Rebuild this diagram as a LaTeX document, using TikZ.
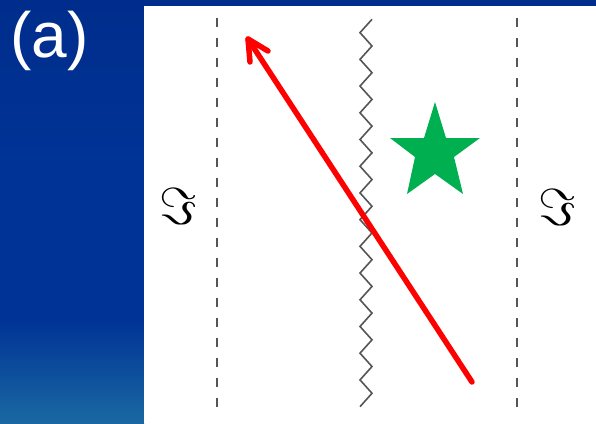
\documentclass[tikz,border=0pt]{standalone}
\usepackage{fontspec}
\setmainfont{Liberation Sans}
\usetikzlibrary{arrows.meta}
\definecolor{bgblue}{RGB}{0,51,150}
\definecolor{bgtop}{RGB}{0,45,140}
\definecolor{bglow}{RGB}{26,104,162}
\definecolor{stargreen}{RGB}{0,176,80}
\definecolor{linegray}{RGB}{85,85,85}
\tikzset{
  dashline/.style={draw=linegray, line width=1.3pt, dash pattern=on 9pt off 11pt},
  zigline/.style={draw=linegray, line width=1.6pt, line join=miter},
  redarrow/.style={draw=red, line width=5.5pt, line cap=round, line join=round},
  frak/.style={inner sep=0pt, text=black},
}
\begin{document}
\begin{tikzpicture}[x=1pt,y=-1pt]
\useasboundingbox (0,0) rectangle (596,423);
% background
\fill[bgblue] (0,0) rectangle (596,423);
\shade[top color=bgtop, bottom color=bgblue] (0,0) rectangle (596,160);
\shade[top color=bgblue, bottom color=bglow] (0,320) rectangle (144,423);
\fill[white] (144,6) rectangle (596,423);
% label
\node[anchor=base west, inner sep=0pt, text=white, font=\fontsize{64}{64}\selectfont] (lab) at (10,57) {(a)};
% dashed lines
\coordinate (d1t) at (217,18);
\coordinate (d1b) at (217,409);
\coordinate (d2t) at (517,18);
\coordinate (d2b) at (517,409);
\draw[dashline] (d1t) -- (d1b);
\draw[dashline] (d2t) -- (d2b);
% zigzag
\draw[zigline] (372,19.3)
  \foreach \k in {0,...,13} { -- (360,{19.3+26.71*\k+13.36}) -- (372,{19.3+26.71*(\k+1)}) }
  -- (360,406.7);
% Fraktur symbols
\node[frak] (fl) at (178,206) {\scalebox{5.2}{$\Im$}};
\node[frak] (fr) at (557,207) {\scalebox{5.2}{$\Im$}};
% star
\fill[stargreen] (435,102) -- (446,138) -- (480,138) -- (454,157) -- (463,194)
  -- (435,174) -- (407,194) -- (415,157) -- (390,138) -- (424,138) -- cycle;
% red arrow
\coordinate (tail) at (472,382);
\coordinate (tip) at (248,39);
\coordinate (b1) at (250,62);
\coordinate (b2) at (268,51);
\draw[redarrow] (tail) -- (tip);
\draw[redarrow] (b1) -- (tip) -- (b2);
\end{tikzpicture}
\end{document}
